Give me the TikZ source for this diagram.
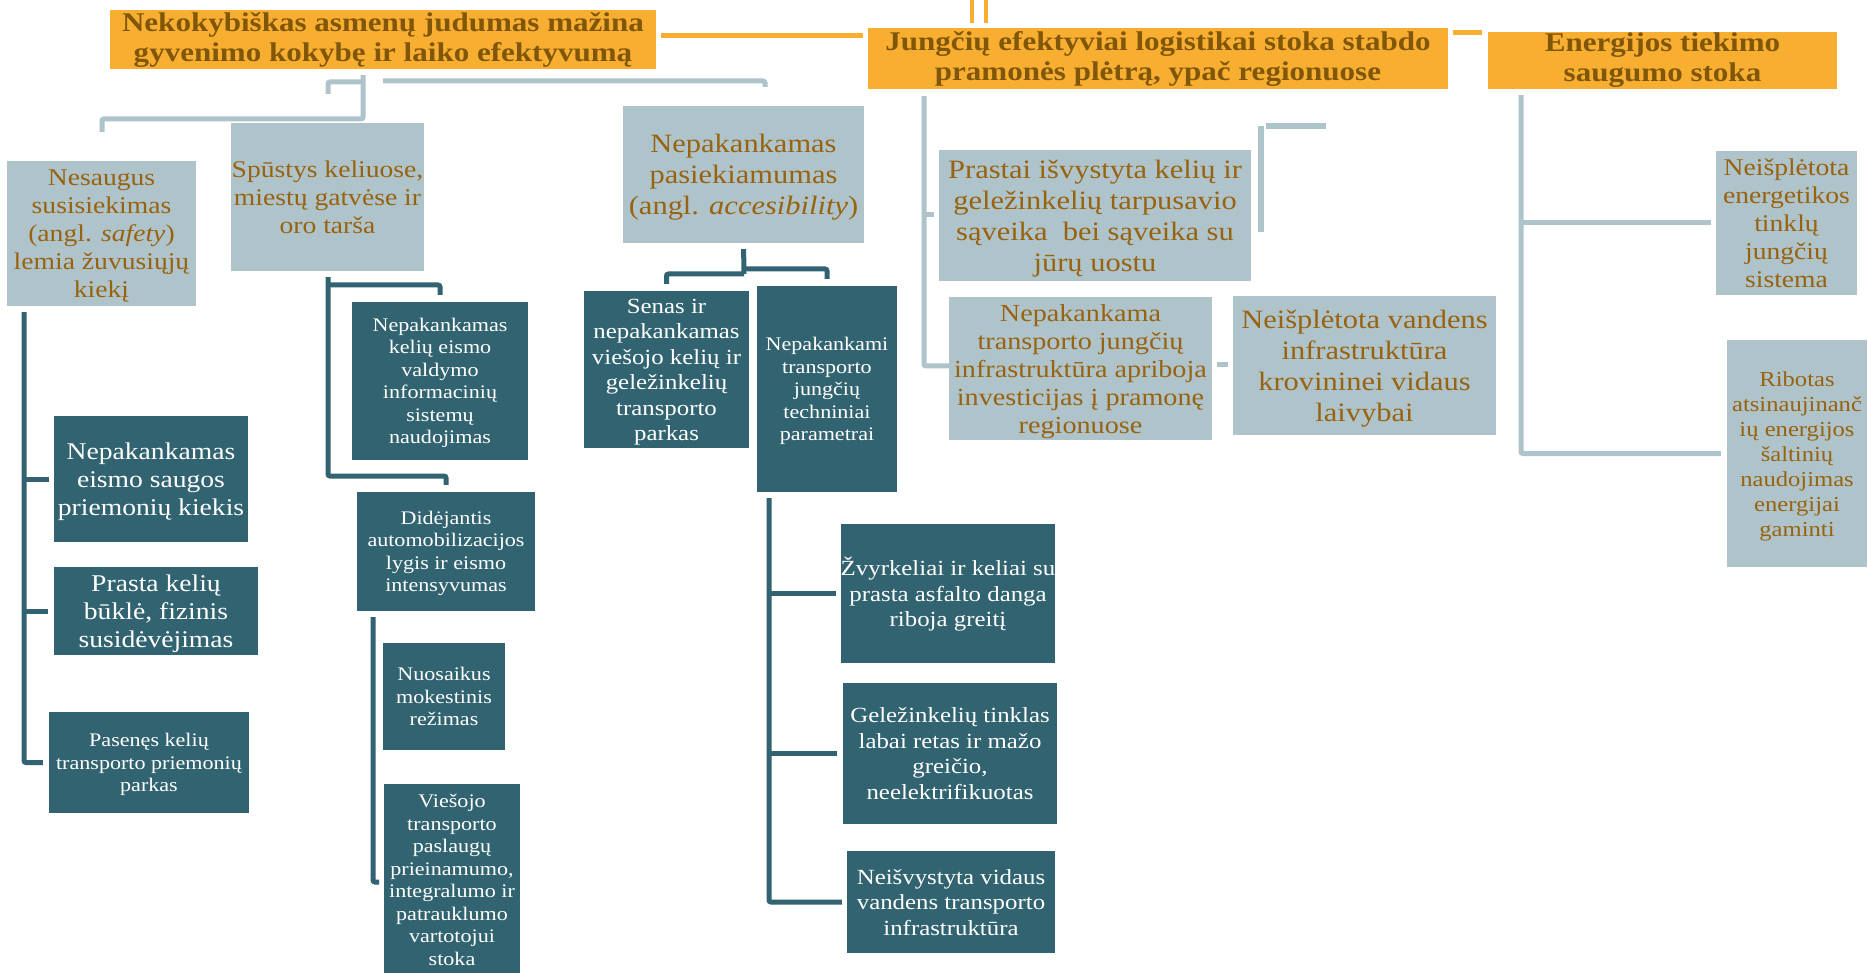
\documentclass[tikz,border=0pt]{standalone}
\usepackage{fontspec}
\setmainfont{Liberation Serif}[FakeStretch=1.15]
\usetikzlibrary{calc}

\definecolor{orng}{RGB}{248,175,49}
\definecolor{hdtxt}{RGB}{128,86,8}
\definecolor{lgray}{RGB}{175,195,203}
\definecolor{ltxt}{RGB}{152,99,14}
\definecolor{dteal}{RGB}{49,99,112}

% fixed height of the first text line in a box
\newcommand{\boxtop}{\rule{0pt}{1.0em}}

\tikzset{
  hd/.style={fill=orng, text=hdtxt, align=center, inner sep=0pt,
    font=\bfseries\fontsize{27}{30}\selectfont},
  % font size, line spacing and a fixed last-line depth
  tx/.style n args={3}{font=\fontsize{#1}{#2}\selectfont,
    execute at end node={\rule[-#3pt]{0pt}{0pt}}},
  lb/.style={fill=lgray, text=ltxt, align=center, inner sep=0pt},
  db/.style={fill=dteal, text=white, align=center, inner sep=0pt},
  szA/.style={tx={19.2}{22.5}{5.8}},
  szB/.style={tx={21.6}{25.5}{6.5}},
  szC/.style={tx={24}{28}{7.2}},
  szD/.style={tx={26.5}{31}{8}},
  oline/.style={draw=orng, line width=5pt},
  othin/.style={draw=orng, line width=3.5pt},
  lline/.style={draw=lgray, line width=5pt, rounded corners=2pt},
  dline/.style={draw=dteal, line width=5pt, rounded corners=2pt},
}

\begin{document}
\begin{tikzpicture}[x=1pt, y=-1pt]
\useasboundingbox (0,0) rectangle (1868,973);
\fill[white] (0,0) rectangle (1868,973);

% ---- top-level problems
\node[hd, minimum width=546pt, minimum height=59pt] (A) at (383,39.5)
  {Nekokybiškas asmenų judumas mažina\\gyvenimo kokybę ir laiko efektyvumą};
\node[hd, minimum width=580pt, minimum height=61pt] (B) at (1158,58.5)
  {Jungčių efektyviai logistikai stoka stabdo\\pramonės plėtrą, ypač regionuose};
\node[hd, minimum width=349pt, minimum height=57pt] (C) at (1662.5,60.5)
  {Energijos tiekimo\\saugumo stoka};

% ---- second-level causes
\node[lb, szC, minimum width=189pt, minimum height=145pt] (nes) at (101.5,233.5)
  {\boxtop Nesaugus\\susisiekimas\\(angl. \textit{safety})\\lemia žuvusiųjų\\kiekį};
\node[lb, szC, minimum width=193pt, minimum height=148pt] (spu) at (327.5,197)
  {\boxtop Spūstys keliuose,\\miestų gatvėse ir\\oro tarša};
\node[lb, szD, minimum width=241pt, minimum height=137pt] (pas) at (743.5,174.5)
  {\boxtop Nepakankamas\\pasiekiamumas\\(angl. \textit{accesibility})};
\node[lb, szD, minimum width=312pt, minimum height=131pt] (pra) at (1095,215.5)
  {\boxtop Prastai išvystyta kelių ir\\geležinkelių tarpusavio\\sąveika\ \ bei sąveika su\\jūrų uostu};
\node[lb, tx={24.5}{28}{7.3}, minimum width=263pt, minimum height=139pt] (njt) at (1080.5,368.5)
  {\boxtop Nepakankama\\transporto jungčių\\infrastruktūra apriboja\\investicijas į pramonę\\regionuose};
\node[lb, szD, minimum width=263pt, minimum height=139pt] (nvi) at (1364.5,365.5)
  {\boxtop Neišplėtota vandens\\infrastruktūra\\krovininei vidaus\\laivybai};
\node[lb, szC, minimum width=141pt, minimum height=140pt] (nen) at (1786.5,223)
  {\boxtop Neišplėtota\\energetikos\\tinklų\\jungčių\\sistema};
\node[lb, tx={21.4}{25}{6.4}, minimum width=140pt, minimum height=227pt] (rib) at (1797,453.5)
  {\boxtop Ribotas\\atsinaujinanč\\ių energijos\\šaltinių\\naudojimas\\energijai\\gaminti};

% ---- third-level causes
\node[db, szC, minimum width=194pt, minimum height=126pt] (d12) at (151,479)
  {\boxtop Nepakankamas\\eismo saugos\\priemonių kiekis};
\node[db, szC, minimum width=204pt, minimum height=88pt] (d13) at (156,611)
  {\boxtop Prasta kelių\\būklė, fizinis\\susidėvėjimas};
\node[db, szA, minimum width=200pt, minimum height=101pt] (d14) at (149,762.5)
  {\boxtop Pasenęs kelių\\transporto priemonių\\parkas};
\node[db, szA, minimum width=176pt, minimum height=158pt] (d15) at (440,381)
  {\boxtop Nepakankamas\\kelių eismo\\valdymo\\informacinių\\sistemų\\naudojimas};
\node[db, szA, minimum width=178pt, minimum height=119pt] (d16) at (446,551.5)
  {\boxtop Didėjantis\\automobilizacijos\\lygis ir eismo\\intensyvumas};
\node[db, szA, minimum width=122pt, minimum height=107pt] (d17) at (444,696.5)
  {\boxtop Nuosaikus\\mokestinis\\režimas};
\node[db, szA, minimum width=136pt, minimum height=192pt] (d18) at (452,880)
  {\boxtop Viešojo\\transporto\\paslaugų\\prieinamumo,\\integralumo ir\\patrauklumo\\vartotojui\\stoka};
\node[db, szB, minimum width=165pt, minimum height=157pt] (d19) at (666.5,369.5)
  {\boxtop Senas ir\\nepakankamas\\viešojo kelių ir\\geležinkelių\\transporto\\parkas};
\node[db, szA, minimum width=140pt, minimum height=206pt] (d20) at (827,389)
  {\boxtop Nepakankami\\transporto\\jungčių\\techniniai\\parametrai};
\node[db, szB, minimum width=212pt, minimum height=139pt] (d21) at (948,593.5)
  {\boxtop Žvyrkeliai ir keliai su\\prasta asfalto danga\\riboja greitį};
\node[db, szB, minimum width=214pt, minimum height=141pt] (d22) at (950,753.5)
  {\boxtop Geležinkelių tinklas\\labai retas ir mažo\\greičio,\\neelektrifikuotas};
\node[db, szB, minimum width=208pt, minimum height=102pt] (d23) at (951,902)
  {\boxtop Neišvystyta vidaus\\vandens transporto\\infrastruktūra};

% ---- orange links between the top-level boxes
\coordinate (ab) at (0,36);
\draw[oline, shorten <=5pt, shorten >=5pt] (A.east |- ab) -- (B.west |- ab);
\coordinate (bc) at (0,33);
\draw[oline, shorten <=5pt, shorten >=6pt] (B.east |- bc) -- (C.west |- bc);
\coordinate (t1) at (972,0);
\coordinate (t2) at (986,0);
\draw[othin, shorten >=5pt] (t1) -- (t1 |- B.north);
\draw[othin, shorten >=5pt] (t2) -- (t2 |- B.north);

% ---- light connectors under the first problem
\coordinate (ka) at (363,119);
\coordinate (kb) at (102,132);
\draw[lline, shorten <=6pt] (ka |- A.south) -- (ka) -- (kb |- ka) -- (kb);
\coordinate (kc) at (328,94);
\coordinate (kd) at (363,82);
\draw[lline] (kc) |- (kd);
\coordinate (ke) at (383,81);
\coordinate (kf) at (765,87);
\draw[lline] (ke) -| (kf);

% ---- light connectors under the second problem
\coordinate (kg) at (924,366);
\draw[lline, shorten <=7pt] (kg |- B.south) -- (kg) -- (njt.west |- kg);
\coordinate (kh) at (924,215);
\draw[lline, shorten >=5pt] (kh) -- (pra.west |- kh);
\coordinate (ki) at (1261,126);
\coordinate (kj) at (1261,232);
\draw[draw=lgray, line width=6pt] (ki) -- (kj);
\coordinate (kk) at (1266,126);
\coordinate (kl) at (1326,126);
\draw[draw=lgray, line width=6pt] (kk) -- (kl);
\coordinate (kn2) at (0,365);
\draw[lline, shorten <=5pt, shorten >=5pt] (njt.east |- kn2) -- (nvi.west |- kn2);

% ---- light connectors under the third problem
\coordinate (km) at (1521,223);
\draw[lline, shorten <=6pt, shorten >=6pt] (km |- C.south) -- (km |- rib.west) -- (rib.west);
\draw[lline, shorten >=5pt] (km) -- (nen.west);

% ---- dark connectors: road safety
\coordinate (na) at (24,0);
\draw[dline, shorten <=6pt, shorten >=6pt] (na |- nes.south) -- (na |- d14.west) -- (d14.west);
\draw[dline, shorten >=5pt] (na |- d12.west) -- (d12.west);
\draw[dline, shorten >=6pt] (na |- d13.west) -- (d13.west);

% ---- dark connectors: congestion
\coordinate (sa) at (328,285);
\draw[dline, shorten >=7pt] (sa) -- (d15.north |- sa) -- (d15.north);
\coordinate (sc) at (328,476);
\draw[dline, shorten <=6pt, shorten >=7pt] (sa |- spu.south) -- (sc) -- (d16.north |- sc) -- (d16.north);
\coordinate (sd) at (373,882);
\coordinate (se) at (379,882);
\draw[dline, shorten <=6pt] (sd |- d16.south) -- (sd) -- (se);

% ---- dark connectors: accessibility
\coordinate (pa) at (744,269);
\coordinate (pb) at (744,274);
\draw[dline, shorten <=6pt] (pas.south) -- (pb);
\draw[dline, shorten >=7pt] (pa) -- (d20.north |- pa) -- (d20.north);
\draw[dline, shorten >=7pt] (pb) -- (d19.north |- pb) -- (d19.north);

% ---- dark connectors: technical parameters
\coordinate (ta) at (769,0);
\draw[dline, shorten <=6pt, shorten >=5pt] (ta |- d20.south) -- (ta |- d23.west) -- (d23.west);
\draw[dline, shorten >=5pt] (ta |- d21.west) -- (d21.west);
\draw[dline, shorten >=6pt] (ta |- d22.west) -- (d22.west);
\end{tikzpicture}
\end{document}
